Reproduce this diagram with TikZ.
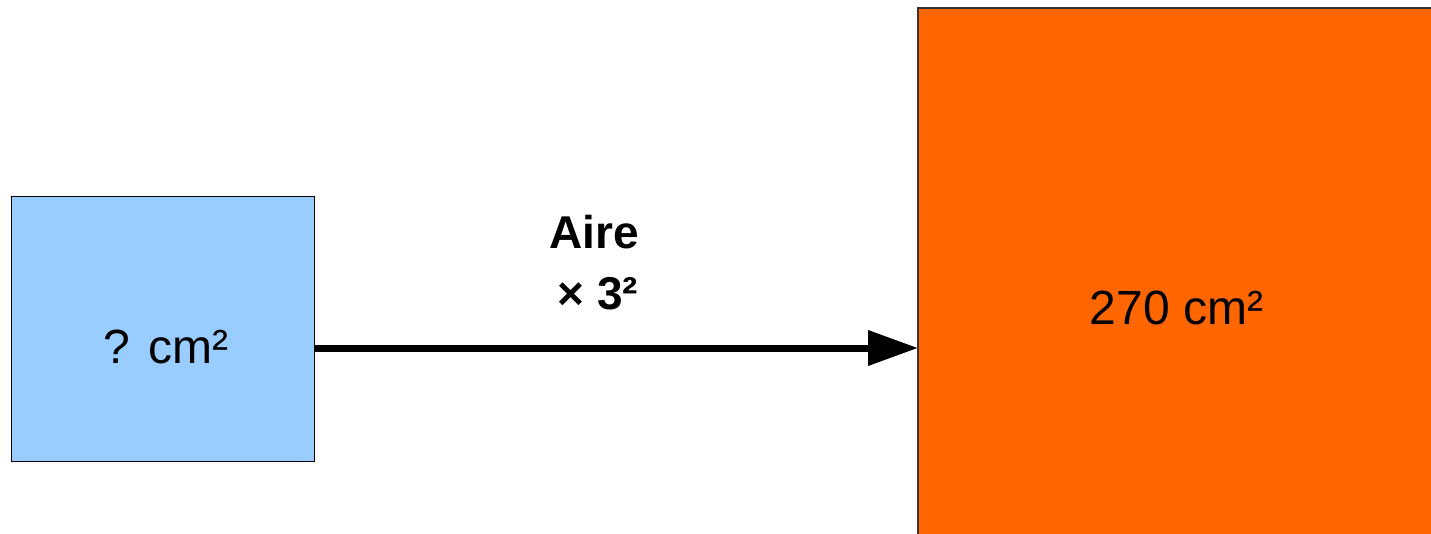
\documentclass[tikz,border=0pt]{standalone}
\usepackage{fontspec}
\setmainfont{Liberation Sans}
\usetikzlibrary{arrows.meta}
\definecolor{boxblue}{HTML}{99CCFF}
\definecolor{boxorange}{HTML}{FF6600}
\definecolor{edgegray}{HTML}{333333}
\tikzset{
  sq/.style={rectangle, inner sep=0pt, outer sep=0pt},
  lbl/.style={anchor=base, inner sep=0pt, font=\fontsize{48}{57}\selectfont},
  blbl/.style={anchor=base, inner sep=0pt, font=\fontsize{46}{55}\bfseries\selectfont},
  bigarrow/.style={line width=7pt, -{Triangle[length=50pt,width=34pt]}}
}
\begin{document}
\begin{tikzpicture}[x=1pt,y=-1pt]
\useasboundingbox (0,0) rectangle (1431,534);
\clip (0,0) rectangle (1431,534);
\node[sq, fill=boxblue, draw=black, line width=1pt, minimum width=303pt, minimum height=264pt] (b) at (162.5,329) {};
\node[sq, fill=boxorange, draw=edgegray, line width=2pt, minimum width=540pt, minimum height=560pt] (o) at (1188,288) {};
\node[lbl] (bt) at (166,363) {? cm²};
\node[lbl] (ot) at (1176.5,324) {270 cm²};
\node[blbl] (t1) at (594,249) {Aire};
\node[blbl] (t2) at (598,309) {× 3²};
\coordinate (ay) at (0,348);
\draw[bigarrow] (b.east |- ay) -- (o.west |- ay);
\end{tikzpicture}
\end{document}
